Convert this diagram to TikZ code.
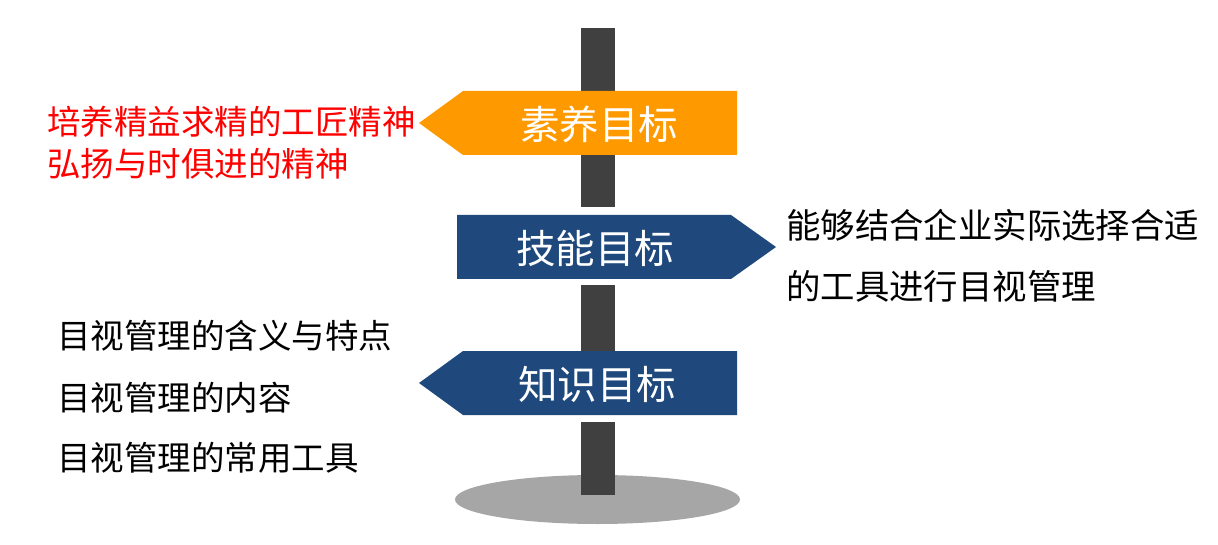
\documentclass[tikz,border=0pt]{standalone}
\usepackage{fontspec}
\newfontfamily\cjk{Noto Sans CJK SC}
\definecolor{signorange}{HTML}{FF9900}
\definecolor{signblue}{HTML}{1F497D}
\definecolor{pole}{HTML}{404040}
\definecolor{shadow}{HTML}{A6A6A6}
\begin{document}
\begin{tikzpicture}[x=1pt,y=-1pt,
  signtext/.style={text=white,font=\cjk\fontsize{39.5}{41}\selectfont,inner sep=0pt},
  desc/.style={font=\cjk\fontsize{33.5}{36}\selectfont,inner sep=0pt,anchor=west},
  descwide/.style={desc,font=\cjk\fontsize{34.4}{36}\selectfont},
  polebar/.style={fill=pole,draw=none}]
\useasboundingbox (0,0) rectangle (1218,545);
% ground shadow
\fill[shadow] (597.5,499.5) ellipse [x radius=142.5, y radius=24.5];
% pole segments
\fill[polebar] (581,28) rectangle (615,207);
\fill[polebar] (581,285) rectangle (615,353);
\fill[polebar] (581,422) rectangle (615,495);
% signs
\fill[signorange] (419,123) -- (463,91) -- (737,91) -- (737,155) -- (463,155) -- cycle;
\fill[signblue] (457,215) -- (731,215) -- (776,247) -- (731,279) -- (457,279) -- cycle;
\fill[signblue] (419,383) -- (463,351) -- (737,351) -- (737,415) -- (463,415) -- cycle;
\node[signtext] (s1) at (599,124) {素养目标};
\node[signtext] (s2) at (595,248) {技能目标};
\node[signtext] (s3) at (597,384) {知识目标};
% descriptions
\node[desc,text=red] (r1) at (47,122) {培养精益求精的工匠精神};
\node[desc,text=red] (r2) at (47,164) {弘扬与时俱进的精神};
\node[descwide] (k1) at (786,225) {能够结合企业实际选择合适};
\node[descwide] (k2) at (786,286) {的工具进行目视管理};
\node[desc] (z1) at (57,336) {目视管理的含义与特点};
\node[desc] (z2) at (57,398) {目视管理的内容};
\node[desc] (z3) at (57,458) {目视管理的常用工具};
\end{tikzpicture}
\end{document}
